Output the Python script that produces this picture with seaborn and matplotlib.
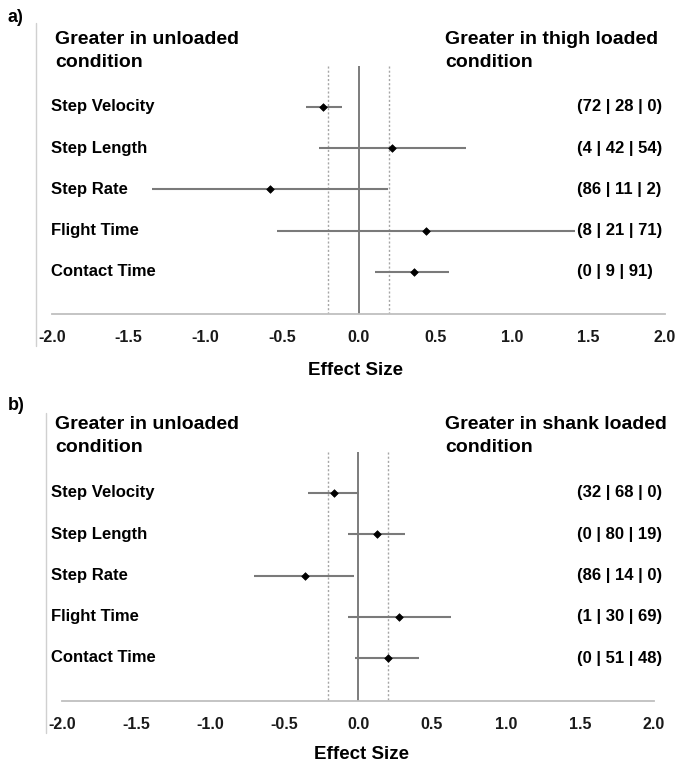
import numpy as np
import pandas as pd
import matplotlib
matplotlib.use("Agg")
import matplotlib.pyplot as plt
import matplotlib.transforms as mtransforms
import seaborn as sns

# ---------------- data ----------------
measures = ["Step Velocity", "Step Length", "Step Rate", "Flight Time", "Contact Time"]

thigh_es = [-0.23, 0.22, -0.58, 0.44, 0.36]
thigh_lo = [-0.34, -0.26, -1.35, -0.53, 0.11]
thigh_hi = [-0.11, 0.70, 0.19, 1.41, 0.59]
thigh_pct = ["(72 | 28 | 0)", "(4 | 42 | 54)", "(86 | 11 | 2)", "(8 | 21 | 71)", "(0 | 9 | 91)"]

shank_es = [-0.16, 0.13, -0.36, 0.28, 0.20]
shank_lo = [-0.34, -0.07, -0.70, -0.07, -0.02]
shank_hi = [0.01, 0.32, -0.03, 0.63, 0.41]
shank_pct = ["(32 | 68 | 0)", "(0 | 80 | 19)", "(86 | 14 | 0)", "(1 | 30 | 69)", "(0 | 51 | 48)"]

xticks = [-2.0, -1.5, -1.0, -0.5, 0.0, 0.5, 1.0, 1.5, 2.0]
xtick_labels = ["-2.0", "-1.5", "-1.0", "-0.5", "0.0", "0.5", "1.0", "1.5", "2.0"]
threshold = 0.2

panels = [
    dict(tag="a)", right="Greater in thigh loaded\ncondition", es=thigh_es, lo=thigh_lo,
         hi=thigh_hi, pct=thigh_pct),
    dict(tag="b)", right="Greater in shank loaded\ncondition", es=shank_es, lo=shank_lo,
         hi=shank_hi, pct=shank_pct),
]
left_header = "Greater in unloaded\ncondition"

# ---------------- style ----------------
sns.set_style("white")
plt.rcParams["font.family"] = ["Liberation Sans", "DejaVu Sans"]
plt.rcParams["font.weight"] = "bold"
plt.rcParams["text.color"] = "black"

W, H = 676, 763
fig = plt.figure(figsize=(W / 100, H / 100), dpi=100)

layouts = [
    dict(left=36, top=23, bottom=314, xm2=52, xp2=665, row0=107, tag_y=18, head_y=51,
         labelpad=12),
    dict(left=46, top=413, bottom=701, xm2=62, xp2=654, row0=493, tag_y=405, head_y=436,
         labelpad=10),
]
row_gap = 41.25

for p, L in zip(panels, layouts):
    ppu = (L["xp2"] - L["xm2"]) / 4.0
    x0 = -2.0 - (L["xm2"] - L["left"]) / ppu
    x1 = 2.0 + (W - L["xp2"]) / ppu
    ytop = (L["top"] - L["row0"]) / row_gap
    ybot = (L["bottom"] - L["row0"]) / row_gap

    ax = fig.add_axes([L["left"] / W, 1 - L["bottom"] / H, (W - L["left"]) / W,
                       (L["bottom"] - L["top"]) / H])
    ax.set_xlim(x0, x1)
    ax.set_ylim(ybot, ytop)

    df = pd.DataFrame({"measure": measures, "es": p["es"], "lo": p["lo"], "hi": p["hi"],
                       "pos": np.arange(len(measures))})

    # reference lines
    ax.vlines(0, -1.0, ybot, color="#595959", lw=1.1, zorder=1)
    ax.vlines([-threshold, threshold], -1.0, ybot, color="#a6a6a6", lw=1.0,
              linestyles=(0, (1.5, 1.5)), zorder=1)

    # CIs and points
    ax.hlines(df["pos"], df["lo"], df["hi"], color="#7a7a7a", lw=1.5, zorder=2)
    sns.scatterplot(data=df, x="es", y="pos", marker="D", color="black", s=15,
                    edgecolor="black", linewidth=0.5, ax=ax, zorder=3, legend=False)

    # spines / axis
    for s in ["top", "right", "left"]:
        ax.spines[s].set_visible(False)
    ax.spines["bottom"].set_bounds(-2.0, 2.0)
    ax.spines["bottom"].set_color("#bfbfbf")
    ax.spines["bottom"].set_linewidth(1.3)
    ax.plot([0, 0], [-0.11, 1.0], transform=ax.transAxes, color="#d0d0d0", lw=1.0,
            clip_on=False)
    ax.set_yticks([])
    ax.set_xticks(xticks)
    ax.set_xticklabels(xtick_labels, fontsize=11.5, fontweight="bold", color="#1a1a1a")
    ax.tick_params(axis="x", length=0, pad=11.5)
    ax.set_xlabel("Effect Size", fontsize=13.5, fontweight="bold", labelpad=L["labelpad"],
                  color="black")
    ax.set_ylabel("")

    # row labels and percentages
    tr = mtransforms.blended_transform_factory(fig.transFigure, ax.transData)
    for i, (m, pc) in enumerate(zip(measures, p["pct"])):
        ax.text(51 / W, i, m, transform=tr, ha="left", va="center", fontsize=12,
                fontweight="bold", color="black")
        ax.text(577 / W, i, pc, transform=tr, ha="left", va="center", fontsize=12,
                fontweight="bold", color="black")

    # headers and panel tag
    fig.text(55 / W, 1 - L["head_y"] / H, left_header, ha="left", va="center",
             fontsize=14, fontweight="bold", linespacing=1.4, color="black")
    fig.text(445 / W, 1 - L["head_y"] / H, p["right"], ha="left", va="center",
             fontsize=14, fontweight="bold", linespacing=1.4, color="black")
    fig.text(8 / W, 1 - L["tag_y"] / H, p["tag"], ha="left", va="center",
             fontsize=13, fontweight="bold", color="black")

fig.savefig("out.png", dpi=100)
